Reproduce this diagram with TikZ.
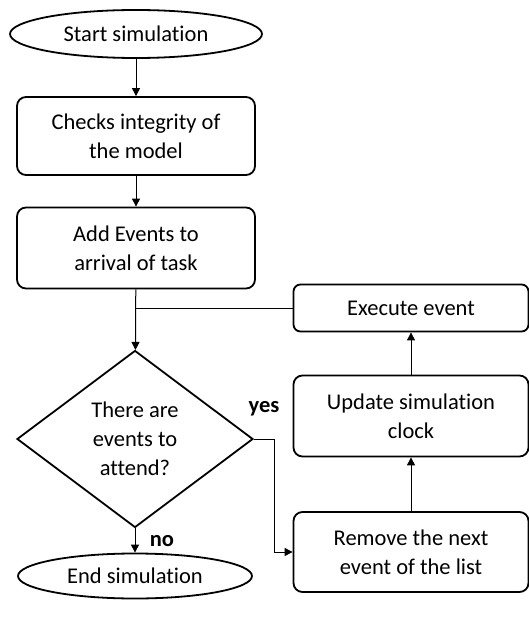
\documentclass[tikz,border=0pt]{standalone}
\usepackage{fontspec}
\setmainfont{Carlito}[Ligatures=NoCommon]
\usetikzlibrary{shapes.geometric,arrows.meta}
\begin{document}
\begin{tikzpicture}[x=1pt,y=-1pt,
  font=\fontsize{22.5}{29}\selectfont,
  term/.style={ellipse,draw,line width=1.8pt,inner sep=0pt,minimum width=#1,minimum height=48pt},
  procbox/.style={rectangle,rounded corners=9pt,draw,line width=1.8pt,align=center,minimum width=238pt,inner sep=0pt},
  decbox/.style={diamond,draw,line width=1.8pt,align=center,minimum width=236pt,minimum height=177pt,inner sep=0pt,aspect=1.33},
  conn/.style={line width=1pt,-{Triangle[length=8pt,width=8pt]}},
  lbl/.style={font=\fontsize{22.5}{26}\selectfont\bfseries}]
\useasboundingbox (0,0) rectangle (529,618);
\node[term=252pt] (start) at (136,34) {Start simulation};
\node[procbox,minimum height=78pt] (check) at (136,136) {Checks integrity of\\the model};
\node[procbox,minimum height=81pt] (add) at (136,248) {Add Events to\\arrival of task};
\node[decbox] (dec) at (135,439) {There are\\events to\\attend?};
\node[term=234pt,minimum height=45pt] (end) at (135,576) {End simulation};
\node[procbox,rounded corners=7pt,minimum width=235pt,minimum height=47pt] (exec) at (411,308) {Execute event};
\node[procbox,minimum width=235pt,minimum height=81pt] (upd) at (411,416) {Update simulation\\clock};
\node[procbox,minimum width=235pt,minimum height=80pt] (rem) at (411,552) {Remove the next\\event of the list};
\coordinate (j) at (135,307);
\coordinate (yv) at (274,439);
\node[lbl] (yes) at (264,409) {yes};
\node[lbl] (no) at (162,541) {no};
\draw[conn] (start) -- (check);
\draw[conn] (check) -- (add);
\draw[conn] (add) -- (dec);
\draw[conn] (dec) -- (end);
\draw[line width=1pt] (exec.west) -- (exec.west -| j);
\draw[conn] (dec.east) -- (yv) |- (rem.west);
\draw[conn] (rem) -- (upd);
\draw[conn] (upd) -- (exec);
\end{tikzpicture}
\end{document}
